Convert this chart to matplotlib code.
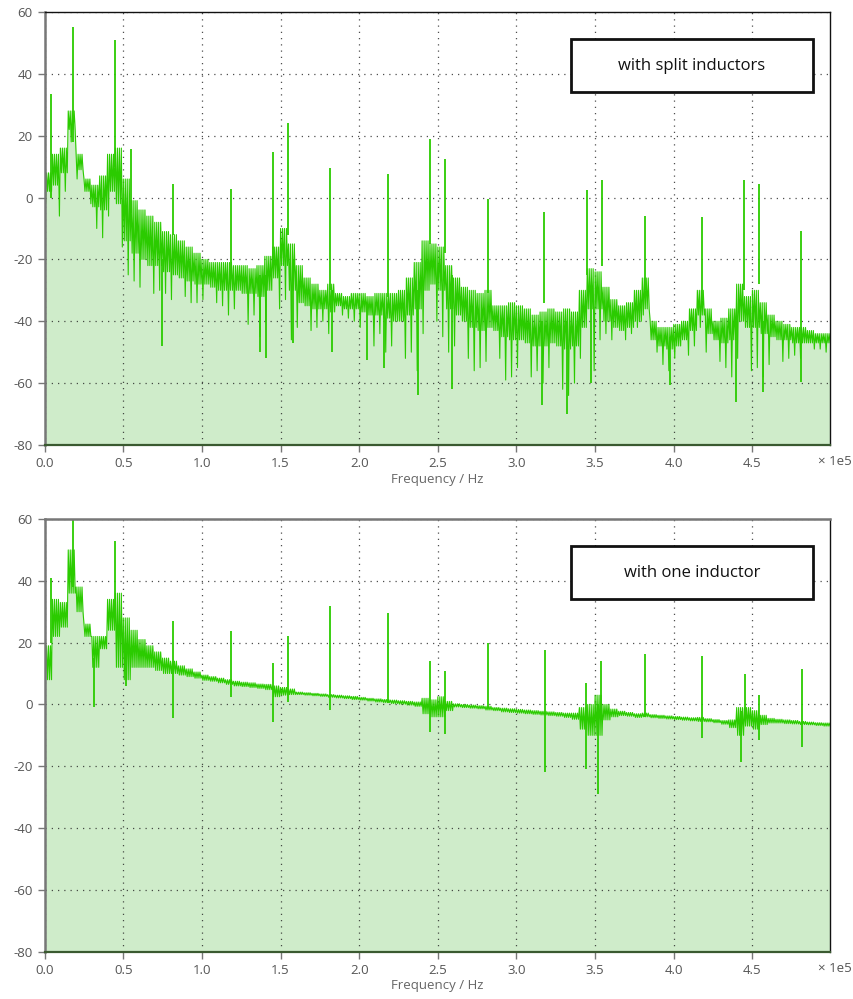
import numpy as np
import matplotlib
matplotlib.use("Agg")
import matplotlib.pyplot as plt
from matplotlib.patches import Rectangle
from matplotlib.ticker import FuncFormatter

plt.rcParams['font.family'] = ['Open Sans', 'DejaVu Sans']
plt.rcParams['axes.unicode_minus'] = False

################################DATOS################################
# espectro en bandas de 5 kHz: maximo, borde inferior del ruido denso y minimo (dB)
centros_khz = np.arange(2.5, 500, 5)

# con inductores partidos
split_alto = [8, 14, 16, 28, 14, 6, 4, 7, 14, 16,
              6, -1, -4, -6, -8, -11, -12, -14, -16, -18,
              -20, -21, -21, -21, -22, -22, -23, -22, -19, -16,
              -10, -15, -22, -26, -28, -30, -28, -31, -32, -31,
              -31, -32, -31, -31, -31, -30, -26, -21, -14, -15,
              -16, -22, -26, -29, -30, -31, -30, -35, -35, -34,
              -35, -36, -38, -37, -36, -37, -36, -37, -30, -23,
              -24, -29, -33, -35, -34, -30, -26, -40, -42, -42,
              -41, -40, -36, -30, -36, -40, -39, -36, -28, -32,
              -30, -34, -38, -40, -41, -42, -42, -43, -44, -44]
split_medio = [2, 4, 8, 22, 9, 2, -3, -4, 2, -2,
               -14, -18, -20, -22, -22, -24, -25, -26, -27, -28,
               -28, -29, -30, -30, -30, -31, -31, -32, -30, -26,
               -22, -30, -34, -35, -36, -36, -37, -35, -36, -36,
               -37, -38, -38, -39, -40, -40, -38, -36, -30, -28,
               -30, -36, -38, -40, -42, -43, -42, -43, -45, -46,
               -46, -47, -48, -48, -47, -48, -49, -48, -42, -36,
               -36, -40, -42, -43, -42, -40, -36, -46, -48, -49,
               -48, -46, -43, -38, -44, -46, -47, -46, -40, -42,
               -42, -44, -45, -46, -46, -47, -47, -47, -47, -47]
split_bajo = [-2, -6, 2, 18, 6, -2, -10, -13, -6, -16,
              -25, -27, -29, -31, -30, -31, -33, -32, -34, -34,
              -33, -34, -35, -38, -36, -41, -38, -45, -40, -36,
              -33, -46, -42, -43, -42, -40, -44, -38, -39, -40,
              -42, -48, -44, -50, -48, -52, -50, -56, -44, -40,
              -45, -50, -48, -52, -56, -55, -53, -52, -59, -58,
              -55, -58, -56, -60, -55, -62, -64, -60, -52, -56,
              -46, -44, -46, -46, -44, -42, -38, -50, -54, -56,
              -52, -51, -48, -42, -50, -53, -55, -58, -52, -56,
              -55, -58, -54, -53, -52, -51, -52, -49, -49, -50]
# picos y caidas estrechas: frecuencia (kHz), tope, fondo (dB)
split_picos_f = [4.3, 18, 44.5, 54.7, 74.8, 81.8, 118.6, 137, 141, 145,
                 155, 158, 181.7, 182.5, 205, 216, 218, 237.6, 245, 254.6,
                 258.8, 281.9, 316, 317.8, 331.8, 345, 347.5, 354.4, 381.6, 397.5,
                 417.8, 439.4, 444.7, 454.4, 456.7, 481]
split_picos_top = [33.5, 55, 51, 15.8, -20, 4.3, 2.9, -25, -25, 14.7,
                   24, -20, 9.6, -30, -35, -35, 7.7, -30, 18.8, 12.6,
                   -25, -0.6, -40, -4.6, -40, 2.6, -30, 5.8, -6, -45,
                   -6.2, -40, 5.6, 4.5, -40, -10.7]
split_picos_bot = [0, 18, 10, -5, -48, -12, -25, -50, -52, -20,
                   -12, -47, -30, -50, -52.5, -55, -32, -64, -15, -18,
                   -62, -31, -67, -34, -70, -25, -60, -22, -30, -60.5,
                   -33, -66, -30, -28, -63, -59.5]

# con un solo inductor
uno_alto = [19, 34, 33, 50, 38, 26, 22, 22, 34, 36,
            28, 24, 21, 19, 17, 15, 14, 12.5, 11.5, 10.5,
            9.5, 9, 8.5, 8, 7.5, 7.2, 7, 6.6, 6.5, 6,
            5.5, 5, 4, 3.8, 3.6, 3.4, 3.2, 3, 2.8, 2.6,
            2.3, 2, 1.8, 1.6, 1.4, 1.2, 1, 0.8, 2, 1.5,
            2.5, 1, 0.2, 0, -0.2, -0.4, -0.6, -1, -1.2, -1.4,
            -1.6, -1.8, -2, -2.2, -2.4, -2.6, -2.8, -2.8, -1, 0,
            3, 0, -1.5, -2.2, -2.6, -3, -2.8, -3.3, -3.5, -3.7,
            -3.9, -4.1, -4.3, -4.2, -4.6, -4.9, -5.2, -5, -1, -1,
            -2, -3.5, -4.5, -4.8, -5, -5.2, -5.5, -5.7, -5.9, -6]
uno_bajo = [8, 22, 25, 36, 30, 22, 12, 18, 24, 12,
            8, 12, 12, 12, 11, 10, 10, 9.5, 9, 8.5,
            7.8, 7.5, 7, 6.5, 6, 5.8, 5.5, 5.2, 4.8, 2.5,
            3, 3.2, 3.2, 3, 2.8, 2.6, 2.3, 2.1, 1.9, 1.6,
            1.4, 1.1, 0.8, 0.6, 0.3, 0.1, -0.2, -0.6, -3, -4,
            -4, -2, -0.8, -1, -1.2, -1.4, -1.8, -2, -2.4, -2.6,
            -2.8, -3, -3.2, -3.4, -3.6, -3.8, -4.2, -4.8, -8, -10,
            -10, -5, -4, -3.6, -3.8, -4.2, -4, -4.3, -4.5, -4.7,
            -4.9, -5.1, -5.3, -5.5, -5.6, -5.9, -6.4, -7.5, -10, -7,
            -8, -6.5, -6, -6, -6.2, -6.3, -6.5, -6.6, -6.8, -7]
uno_picos_f = [4.3, 18, 31.2, 44.5, 51.7, 81.8, 118.6, 145, 154.6, 181.7,
               218, 245, 254.5, 281.6, 318, 344.5, 352, 354, 381.5, 417.7,
               443, 445, 454.5, 481.4]
uno_picos_top = [41, 60, 15, 53, 20, 27, 23.8, 13.5, 22.2, 31.9,
                 29.7, 14, 10.8, 20, 17.6, 6.8, 0, 14.2, 16.2, 15.7,
                 -2, 10, 3.2, 11.4]
uno_picos_bot = [20, 38, -0.8, 28, 6, -4.5, 2.5, -5.6, 0.9, -1.8,
                 0.5, -9, -9.4, -1, -21.8, -20.8, -28.9, -5, -4, -10.8,
                 -18.6, -5, -11.6, -13.7]

VERDE = '#2bcb00'
RELLENO = '#cfecca'
GRIS = '#777777'

################################FUNCIONES################################
def trazo(alto, medio, bajo):
    # recorre cada banda arriba/abajo; el minimo solo una vez por banda
    pasos = 8
    ancho = 5.0 / pasos
    xs, ys = [], []
    for i, (c, a, m, b) in enumerate(zip(centros_khz, alto, medio, bajo)):
        pos_min = (i * 3) % 4 * 2 + 1
        for k in range(pasos):
            xs.append((c - 2.5 + k * ancho) * 1e3)
            if k % 2 == 0:
                ys.append(a)
            elif k == pos_min:
                ys.append(b)
            else:
                ys.append(m)
    xs.append(500e3)
    ys.append(medio[-1])
    return np.array(xs), np.array(ys)


def graficar(ax, alto, medio, bajo, pf, ptop, pbot, titulo, borde_sup):
    x, y = trazo(alto, medio, bajo)
    ax.fill_between(x, y, -80, color=RELLENO, linewidth=0, zorder=1)
    ax.plot(x, y, color=VERDE, linewidth=0.8, zorder=2)
    ax.vlines(np.array(pf) * 1e3, pbot, ptop, color=VERDE, linewidth=1.3, zorder=2)

    ax.set_xlim(0, 4.995e5)
    ax.set_ylim(-80, 60)
    ax.set_xticks(np.arange(0, 5e5, 0.5e5))
    ax.set_yticks(np.arange(-80, 61, 20))
    ax.xaxis.set_major_formatter(FuncFormatter(lambda v, p: '%.1f' % (v / 1e5)))
    ax.set_axisbelow('line')
    ax.grid(True, color='#222222', linestyle=(0, (1, 4)), linewidth=0.9, alpha=0.8)
    ax.tick_params(axis='both', direction='out', length=5, width=1,
                   labelsize=9.5, colors=GRIS)
    ax.tick_params(axis='both', labelcolor='#555555')

    ax.spines['left'].set_color(GRIS)
    ax.spines['left'].set_linewidth(1.8)
    ax.spines['bottom'].set_color('#3a5a30')
    ax.spines['bottom'].set_linewidth(1.6)
    ax.spines['right'].set_color('#111111')
    ax.spines['right'].set_linewidth(1)
    if borde_sup:
        ax.spines['top'].set_color(GRIS)
        ax.spines['top'].set_linewidth(1.8)
    else:
        ax.spines['top'].set_color('#111111')
        ax.spines['top'].set_linewidth(1)

    ax.set_xlabel('Frequency / Hz', fontsize=9.5, color='#666666', labelpad=2)
    ax.text(1.0065, -0.039, '× 1e5', transform=ax.transAxes, ha='center', va='center',
            fontsize=9.5, color='#555555')

    # cuadro con el nombre del caso
    ax.add_patch(Rectangle((0.670, 0.815), 0.308, 0.122, transform=ax.transAxes,
                           facecolor='white', edgecolor='#111111', linewidth=2, zorder=5))
    ax.text(0.824, 0.876, titulo, transform=ax.transAxes, ha='center', va='center',
            fontsize=12, color='#111111', zorder=6)

################################GRAFICAS################################
fig = plt.figure(figsize=(8.54, 9.99), dpi=100)
ax1 = fig.add_axes([0.0523, 0.5546, 0.9199, 0.4334])
ax2 = fig.add_axes([0.0523, 0.0473, 0.9199, 0.4332])

graficar(ax1, split_alto, split_medio, split_bajo, split_picos_f, split_picos_top,
         split_picos_bot, 'with split inductors', False)
# en el caso de un inductor el ruido es fino: borde inferior y minimo coinciden
graficar(ax2, uno_alto, uno_bajo, uno_bajo, uno_picos_f, uno_picos_top,
         uno_picos_bot, 'with one inductor', True)

fig.savefig('out.png', dpi=100)
